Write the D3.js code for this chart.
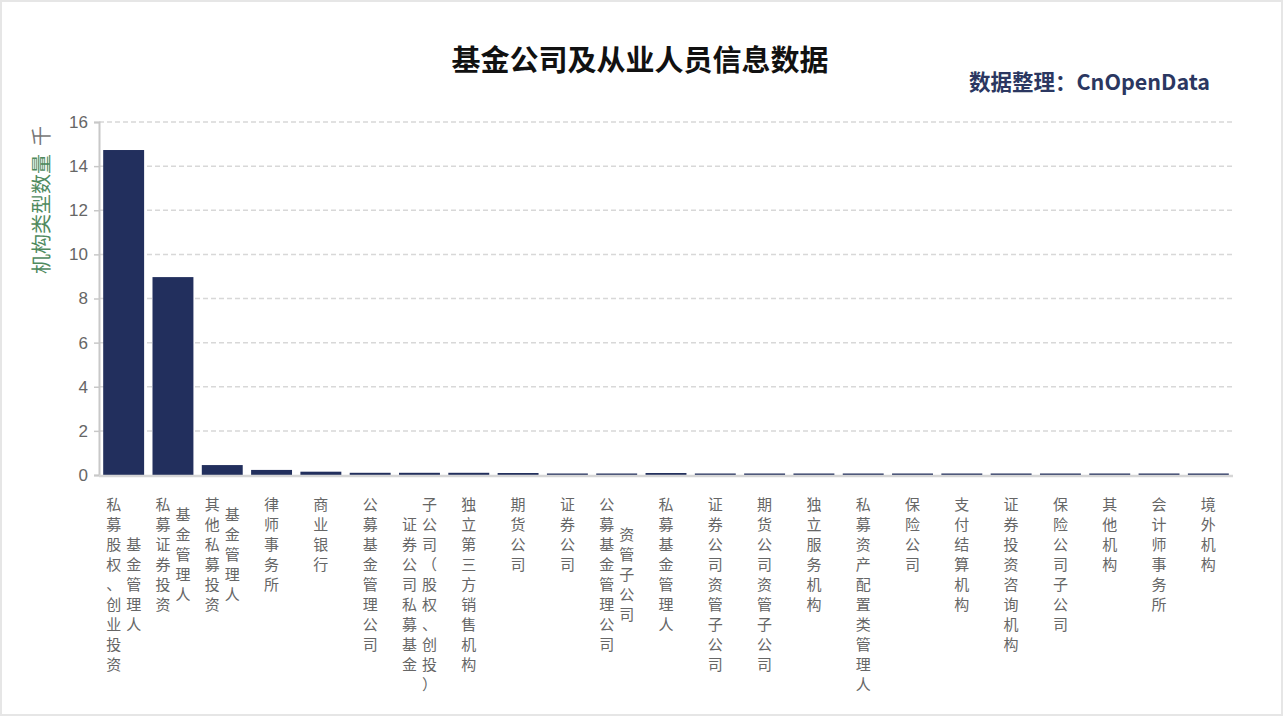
<!DOCTYPE html>
<html lang="zh">
<head>
<meta charset="UTF-8">
<title>基金公司及从业人员信息数据</title>
<script src="https://d3js.org/d3.v7.min.js"></script>
<style>
    body{ margin:0; background:#fff; }
    svg{ display:block; font-family:"Noto Sans CJK SC","Noto Sans",sans-serif; }
    .grid line{ stroke:#d8d8d8; stroke-dasharray:5,3; stroke-width:1.5; }
    .tick text{ fill:#666; }
</style>
</head>
<body>
<svg id="chart" width="1283" height="716"></svg>
<script>
    // category labels, each split into its display columns
    let labels = [
        ["私募股权、创业投资","基金管理人"],
        ["私募证券投资","基金管理人"],
        ["其他私募投资","基金管理人"],
        ["律师事务所"],
        ["商业银行"],
        ["公募基金管理公司"],
        ["证券公司私募基金","子公司（股权、创投）"],
        ["独立第三方销售机构"],
        ["期货公司"],
        ["证券公司"],
        ["公募基金管理公司","资管子公司"],
        ["私募基金管理人"],
        ["证券公司资管子公司"],
        ["期货公司资管子公司"],
        ["独立服务机构"],
        ["私募资产配置类管理人"],
        ["保险公司"],
        ["支付结算机构"],
        ["证券投资咨询机构"],
        ["保险公司子公司"],
        ["其他机构"],
        ["会计师事务所"],
        ["境外机构"]
    ]
    // counts, thousands
    let counts = [14.73, 8.97, 0.45, 0.23, 0.15, 0.10, 0.10, 0.10, 0.09, 0.03, 0.03, 0.09,
        0.03, 0.03, 0.03, 0.03, 0.02, 0.02, 0.02, 0.02, 0.02, 0.02, 0.02]
    let yTicks = [0, 2, 4, 6, 8, 10, 12, 14, 16]

    let svg = d3.select("#chart")
    let W = 1283, H = 716
    let mLeft = 99, mRight = 1233, mTop = 122, mBottom = 475

    // page frame
    svg.append("rect")
        .attr("x", 1).attr("y", 1)
        .attr("width", W - 2).attr("height", H - 2)
        .attr("fill", "#fff")
        .attr("stroke", "#e6e6e6")
        .attr("stroke-width", 2)

    let ids = labels.map((d, i) => i)
    let x = d3.scaleBand().domain(ids).range([mLeft, mRight]).paddingInner(0.17).paddingOuter(0.085)
    let y = d3.scaleLinear().domain([0, 16]).range([mBottom, mTop])

    // grid lines
    svg.append("g")
        .attr("class", "grid")
        .selectAll("line")
        .data(yTicks.filter(d => d > 0))
        .join("line")
        .attr("x1", mLeft).attr("x2", mRight)
        .attr("y1", d => y(d)).attr("y2", d => y(d))

    // bars
    svg.append("g")
        .selectAll("rect")
        .data(counts)
        .join("rect")
        .attr("x", (d, i) => x(i))
        .attr("width", x.bandwidth())
        .attr("y", d => Math.min(y(d), mBottom - 1.5))
        .attr("height", d => Math.max(mBottom - y(d), 1.5))
        .attr("fill", "#222f5d")

    // y axis
    let yAxis = svg.append("g")
        .attr("transform", `translate(${mLeft},0)`)
        .call(d3.axisLeft(y).tickValues(yTicks).tickSize(5).tickPadding(6).tickFormat(d3.format("d")))
    yAxis.select(".domain").attr("stroke", "#c8c8c8").attr("stroke-width", 2)
    yAxis.selectAll(".tick line").attr("stroke", "#c8c8c8").attr("stroke-width", 1.5)
    yAxis.selectAll(".tick text")
        .style("font-family", "'Liberation Sans',Arial,sans-serif")
        .style("font-size", "17px")

    // x axis line
    svg.append("line")
        .attr("x1", mLeft).attr("x2", mRight)
        .attr("y1", mBottom + 1).attr("y2", mBottom + 1)
        .attr("stroke", "#d6d6d6").attr("stroke-width", 2.5)

    // vertical category labels, one glyph per row
    let step = 20
    let lab = svg.append("g")
    labels.forEach(function (cols, i) {
        let cx = x(i) + x.bandwidth() / 2
        let longest = d3.max(cols, c => Array.from(c).length)
        cols.forEach(function (col, j) {
            let chars = Array.from(col)
            let colX = cx + (j - (cols.length - 1) / 2) * step
            let y0 = 503 + (longest - chars.length) / 2 * step
            chars.forEach(function (ch, k) {
                lab.append("text")
                    .attr("x", colX)
                    .attr("y", y0 + k * step)
                    .attr("text-anchor", "middle")
                    .attr("dominant-baseline", "central")
                    .attr("fill", "#666")
                    .style("font-size", "15px")
                    .text(ch)
            })
        })
    })

    // y axis title
    let yt = svg.append("text")
        .attr("transform", "translate(49,200) rotate(-90)")
        .attr("text-anchor", "middle")
        .style("font-size", "20px")
    yt.append("tspan").attr("fill", "#4f8a5e").text("机构类型数量")
    yt.append("tspan").attr("fill", "#777").attr("dx", 8).text("千")

    // title
    svg.append("text")
        .attr("x", 640).attr("y", 71)
        .attr("text-anchor", "middle")
        .attr("fill", "#111")
        .style("font-size", "29px")
        .style("font-weight", "bold")
        .text("基金公司及从业人员信息数据")

    svg.append("text")
        .attr("x", 1210).attr("y", 90)
        .attr("text-anchor", "end")
        .attr("fill", "#2b3761")
        .style("font-size", "21.5px")
        .style("font-weight", "bold")
        .text("数据整理：CnOpenData")
</script>
</body>
</html>
